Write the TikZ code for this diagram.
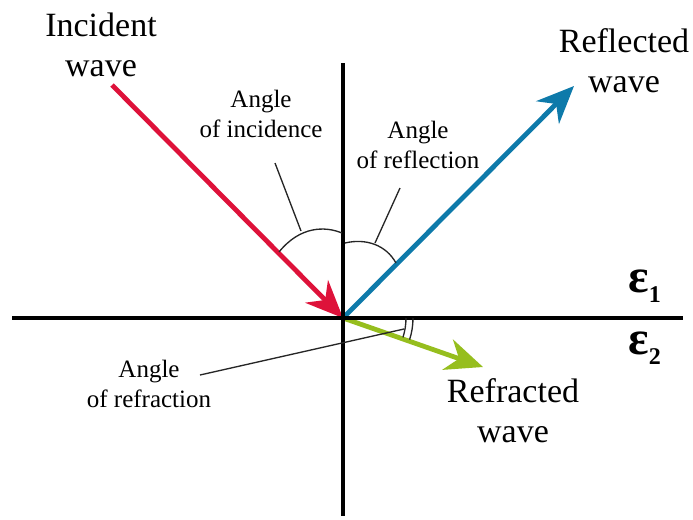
\documentclass[tikz,border=0pt]{standalone}
\usepackage{fontspec}
\setmainfont{Liberation Serif}
\usetikzlibrary{arrows.meta}
\definecolor{incred}{RGB}{222,18,58}
\definecolor{reflblue}{RGB}{14,122,170}
\definecolor{refrgreen}{RGB}{150,190,30}
\tikzset{
  axisln/.style={black, line width=3pt},
  wavearr/.style={-{Stealth[length=28pt, width=24pt, inset=9pt]}, line width=3.6pt},
  anglearc/.style={black!85, line width=1pt},
  pointer/.style={black!85, line width=1pt},
  bigtxt/.style={font=\fontsize{25.5}{30}\selectfont, align=center, inner sep=0pt},
  smalltxt/.style={font=\fontsize{18.75}{22.5}\selectfont, align=center, inner sep=0pt},
  epstxt/.style={font=\fontsize{36}{40}\selectfont\bfseries, inner sep=0pt, anchor=base west},
}
\newcommand{\epsub}[1]{ε\raisebox{-8pt}{\fontsize{18}{18}\selectfont #1}}

\begin{document}
\begin{tikzpicture}[x=0.75pt, y=-0.75pt]
  \useasboundingbox (0,0) rectangle (693,519);
  % axes and wave end points
  \coordinate (O) at (343,318);
  \coordinate (axL) at (12,318);
  \coordinate (axR) at (683,318);
  \coordinate (axT) at (343,63);
  \coordinate (axB) at (343,516);
  \coordinate (incS) at (112,85);
  \coordinate (reflE) at (574,86);
  \coordinate (refrE) at (483,367);
  % waves
  \draw[wavearr, incred] (incS) -- (O);
  \draw[wavearr, reflblue] (O) -- (reflE);
  \draw[wavearr, refrgreen] (O) -- (refrE);
  \draw[axisln] (axL) -- (axR);
  \draw[axisln] (axT) -- (axB);
  % angle marks
  \draw[anglearc] (279,252) .. controls (300,226) and (325,226) .. (342,233);
  \draw[anglearc] (345,243) .. controls (366,238) and (386,245) .. (396,263);
  \draw[anglearc] ([shift={(0:63)}]O) arc[start angle=0, end angle=18, radius=63];
  \draw[anglearc] ([shift={(0:70)}]O) arc[start angle=0, end angle=18, radius=70];
  % labels
  \node[bigtxt] (inclab) at (101,45) {Incident\\wave};
  \node[bigtxt] (refllab) at (624,61) {Reflected\\wave};
  \node[bigtxt] (refrlab) at (513,411) {Refracted\\wave};
  \node[smalltxt] (incang) at (261,114) {Angle\\of incidence};
  \node[smalltxt] (reflang) at (418,145) {Angle\\of reflection};
  \node[smalltxt] (refrang) at (149,384) {Angle\\of refraction};
  \node[epstxt] (eps1) at (628,292) {\epsub{1}};
  \node[epstxt] (eps2) at (628,354) {\epsub{2}};
  % pointers
  \coordinate (incPa) at (275,163);
  \coordinate (incPb) at (301,231);
  \coordinate (reflPa) at (400,188);
  \coordinate (reflPb) at (375,243);
  \coordinate (refrPa) at (200,375);
  \coordinate (refrPb) at (404,329);
  \draw[pointer] (incPa) -- (incPb);
  \draw[pointer] (reflPa) -- (reflPb);
  \draw[pointer] (refrPa) -- (refrPb);
\end{tikzpicture}
\end{document}
